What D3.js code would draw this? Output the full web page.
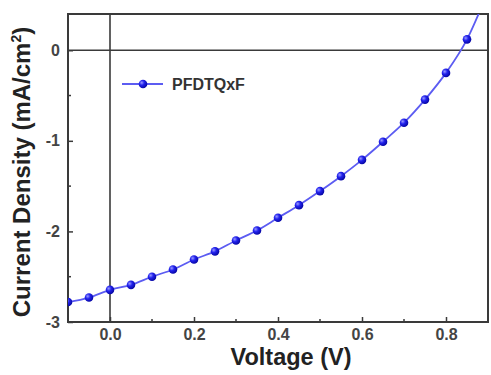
<!DOCTYPE html>
<html>
<head>
<meta charset="utf-8">
<script src="https://cdn.jsdelivr.net/npm/d3@7.9.0/dist/d3.min.js"></script>
<style>
  body { margin: 0; background: #fff; }
  svg { display: block; font-family: "Liberation Sans", Arial, sans-serif; }
</style>
</head>
<body>
<svg id="chart" width="491" height="375"></svg>
<script>
// J-V curve
const voltage = [-0.1, -0.05, 0.0, 0.05, 0.1, 0.15, 0.2, 0.25, 0.3, 0.35, 0.4,
                 0.45, 0.5, 0.55, 0.6, 0.65, 0.7, 0.75, 0.8, 0.85, 0.9];
const currentDensity = [-2.78, -2.73, -2.645, -2.59, -2.50, -2.42, -2.31, -2.22, -2.10, -1.99, -1.85,
                        -1.71, -1.555, -1.39, -1.21, -1.01, -0.80, -0.545, -0.25, 0.12, 0.65];
const seriesName = "PFDTQxF";
const xTicks = [0.0, 0.2, 0.4, 0.6, 0.8];
const xMinorTicks = [-0.1, 0.1, 0.3, 0.5, 0.7];
const yTicks = [0, -1, -2, -3];
const yMinorTicks = [-0.5, -1.5, -2.5];

const data = voltage.map((v, i) => ({ v: v, j: currentDensity[i] }));

const margin = { top: 14, right: 3, bottom: 53, left: 68 };
const svg = d3.select("#chart");
const width = 491 - margin.left - margin.right;
const height = 375 - margin.top - margin.bottom;

const x = d3.scaleLinear().domain([-0.1, 0.9]).range([0, width]);
const y = d3.scaleLinear().domain([-3, 0.4]).range([height, 0]);

const defs = svg.append("defs");
defs.append("clipPath").attr("id", "plot-clip")
  .append("rect").attr("width", width).attr("height", height);

const grad = defs.append("radialGradient").attr("id", "ball")
  .attr("cx", "35%").attr("cy", "35%").attr("r", "65%");
grad.append("stop").attr("offset", "0%").attr("stop-color", "#9a9aff");
grad.append("stop").attr("offset", "45%").attr("stop-color", "#2222ee");
grad.append("stop").attr("offset", "100%").attr("stop-color", "#0808a8");

const g = svg.append("g").attr("transform", `translate(${margin.left},${margin.top})`);

// zero lines
g.append("line")
  .attr("x1", x(0)).attr("x2", x(0)).attr("y1", 0).attr("y2", height)
  .attr("stroke", "#3a3a3a").attr("stroke-width", 1.6);
g.append("line")
  .attr("x1", 0).attr("x2", width).attr("y1", y(0)).attr("y2", y(0))
  .attr("stroke", "#3a3a3a").attr("stroke-width", 1.6);

// axes with ticks pointing inward
const xAxis = g.append("g").attr("transform", `translate(0,${height})`)
  .call(d3.axisBottom(x).tickValues(xTicks).tickSize(-5).tickPadding(7).tickFormat(d => d.toFixed(1)));
xAxis.append("g").selectAll("line").data(xMinorTicks).join("line")
  .attr("x1", d => x(d)).attr("x2", d => x(d)).attr("y1", 0).attr("y2", -3)
  .attr("stroke", "#3a3a3a").attr("stroke-width", 1.5);

const yAxis = g.append("g")
  .call(d3.axisLeft(y).tickValues(yTicks).tickSize(-5).tickPadding(8).tickFormat(d => String(d)));
yAxis.append("g").selectAll("line").data(yMinorTicks).join("line")
  .attr("x1", 0).attr("x2", 3).attr("y1", d => y(d)).attr("y2", d => y(d))
  .attr("stroke", "#3a3a3a").attr("stroke-width", 1.5);

[xAxis, yAxis].forEach(a => {
  a.select(".domain").remove();
  a.selectAll(".tick line").attr("stroke", "#3a3a3a").attr("stroke-width", 1.5);
  a.selectAll(".tick text")
    .style("font-size", "16px").style("font-weight", "bold").attr("fill", "#444");
});

// frame
g.append("rect")
  .attr("width", width).attr("height", height)
  .attr("fill", "none").attr("stroke", "#3a3a3a").attr("stroke-width", 2);

// curve
const plot = g.append("g").attr("clip-path", "url(#plot-clip)");
const line = d3.line().x(d => x(d.v)).y(d => y(d.j)).curve(d3.curveMonotoneX);
plot.append("path").datum(data)
  .attr("d", line).attr("fill", "none")
  .attr("stroke", "#5c5cf2").attr("stroke-width", 1.8);
plot.selectAll("circle.pt").data(data).join("circle")
  .attr("class", "pt")
  .attr("cx", d => x(d.v)).attr("cy", d => y(d.j)).attr("r", 4.3)
  .attr("fill", "url(#ball)");

// legend
const legend = g.append("g").attr("transform", "translate(54,70)");
legend.append("line").attr("x1", 0).attr("x2", 41).attr("y1", 0).attr("y2", 0)
  .attr("stroke", "#5c5cf2").attr("stroke-width", 1.8);
legend.append("circle").attr("cx", 21).attr("cy", 0).attr("r", 4.3).attr("fill", "url(#ball)");
legend.append("text").attr("x", 50).attr("y", 6)
  .style("font-size", "16px").style("font-weight", "bold").attr("fill", "#333")
  .text(seriesName);

// axis titles
svg.append("text")
  .attr("x", 291).attr("y", 365).attr("text-anchor", "middle")
  .style("font-size", "23.5px").style("font-weight", "bold").attr("fill", "#222")
  .text("Voltage (V)");

const yTitle = svg.append("text")
  .attr("transform", `translate(30,${margin.top + height / 2 + 4}) rotate(-90)`)
  .attr("text-anchor", "middle")
  .style("font-size", "24px").style("font-weight", "bold").attr("fill", "#222");
yTitle.append("tspan").text("Current Density (mA/cm");
yTitle.append("tspan").attr("dy", -9).style("font-size", "14px").text("2");
yTitle.append("tspan").attr("dy", 9).text(")");
</script>
</body>
</html>
